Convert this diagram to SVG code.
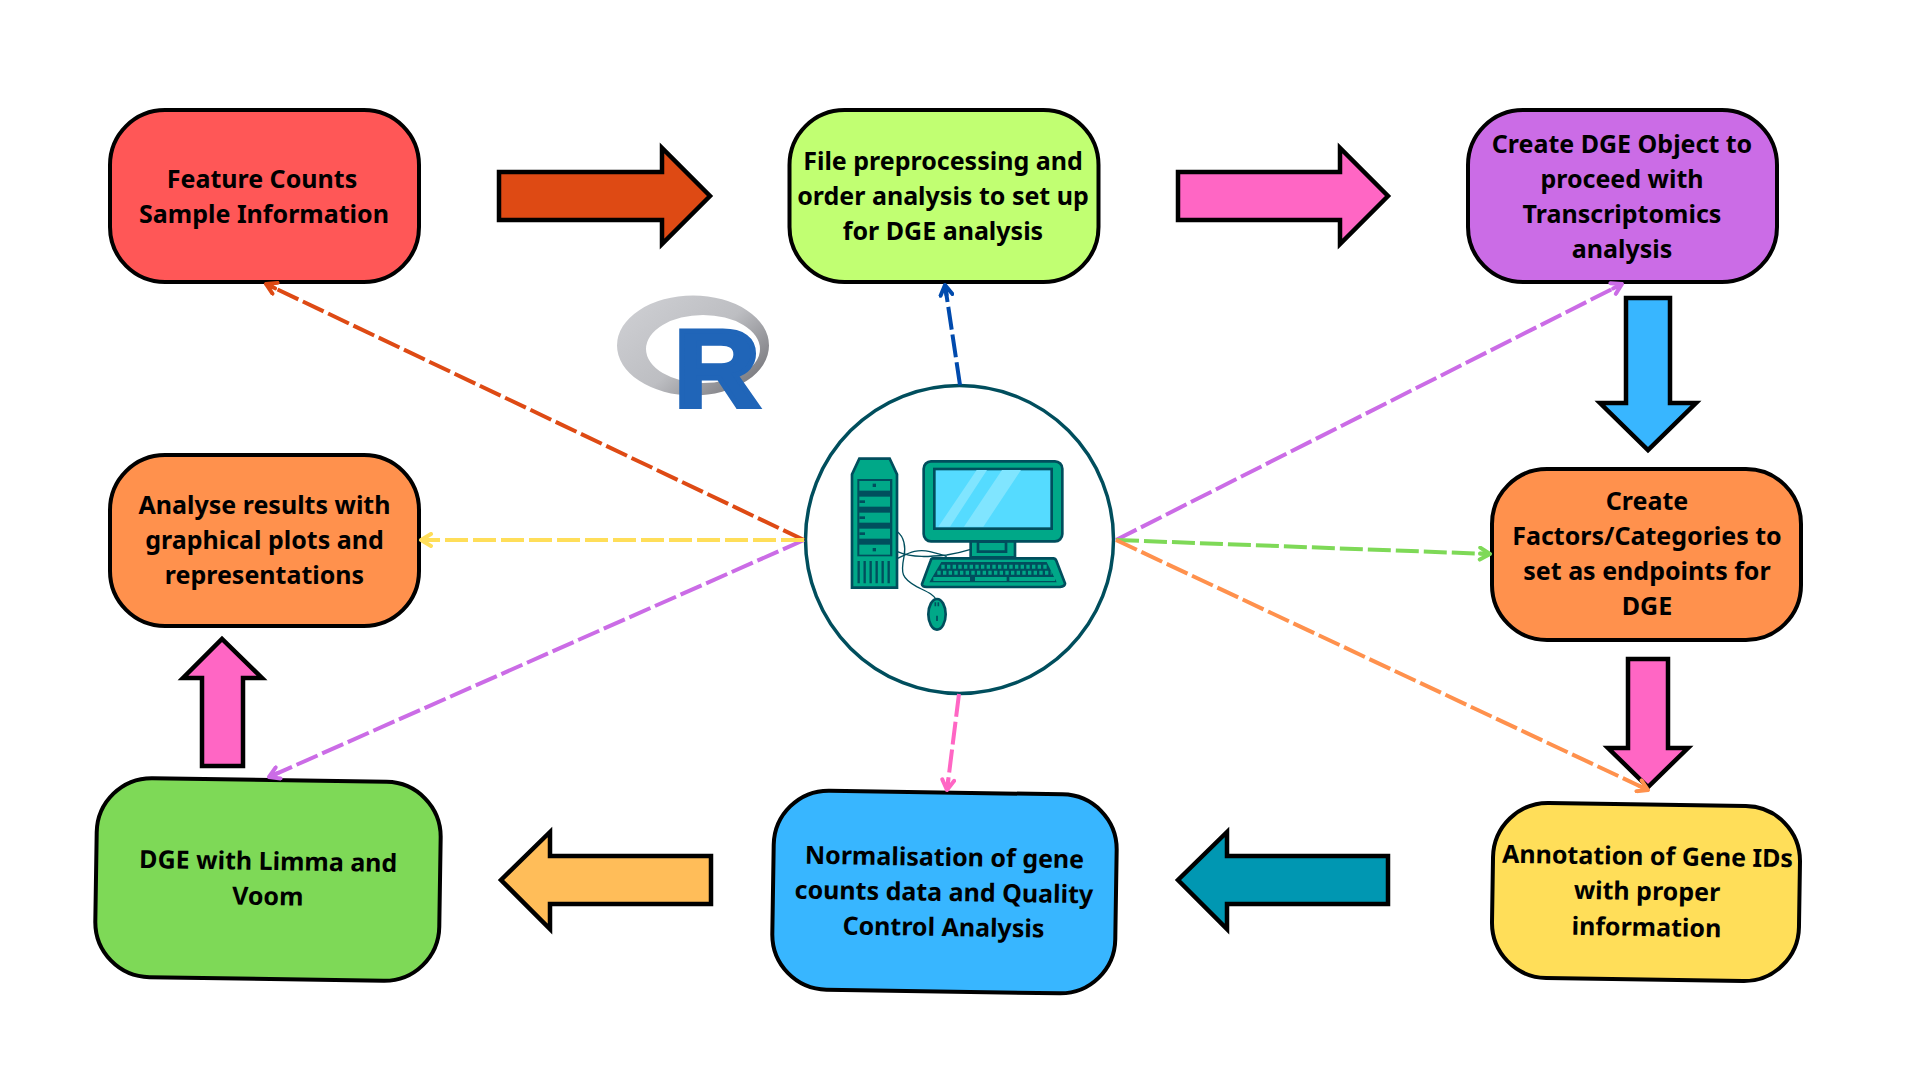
<svg xmlns="http://www.w3.org/2000/svg" width="1920" height="1080" viewBox="0 0 1920 1080">
<style>
.box{stroke:#000;stroke-width:4}
.bar{stroke:#000;stroke-width:4.5;stroke-linejoin:miter}
.lbl{font-family:"Noto Sans","Open Sans",sans-serif;font-weight:700;font-size:25px;fill:#000;text-anchor:middle}
.c{fill:none;stroke-width:4;stroke-dasharray:23 5}
.ico{stroke:#004e5d;stroke-width:8;fill:#00a888}
.wire{fill:none;stroke:#004e5d;stroke-width:4}
.m{fill:none;stroke-width:4;stroke-linecap:round;stroke-linejoin:round}
</style>
<defs>
<linearGradient id="ring" x1="0.1" y1="0.2" x2="0.95" y2="0.85"><stop offset="0" stop-color="#cbccd0"/><stop offset="0.5" stop-color="#bdbec2"/><stop offset="1" stop-color="#77777c"/></linearGradient>
<marker id="a1" viewBox="0 0 16 16" refX="13" refY="8" markerWidth="16" markerHeight="16" markerUnits="userSpaceOnUse" orient="auto"><path class="m" d="M3 2L13 8L3 14M3 8H13" stroke="#de4a14"/></marker>
<marker id="a2" viewBox="0 0 16 16" refX="13" refY="8" markerWidth="16" markerHeight="16" markerUnits="userSpaceOnUse" orient="auto"><path class="m" d="M3 2L13 8L3 14M3 8H13" stroke="#004aad"/></marker>
<marker id="a3" viewBox="0 0 16 16" refX="13" refY="8" markerWidth="16" markerHeight="16" markerUnits="userSpaceOnUse" orient="auto"><path class="m" d="M3 2L13 8L3 14M3 8H13" stroke="#cb6ce6"/></marker>
<marker id="a4" viewBox="0 0 16 16" refX="13" refY="8" markerWidth="16" markerHeight="16" markerUnits="userSpaceOnUse" orient="auto"><path class="m" d="M3 2L13 8L3 14M3 8H13" stroke="#7ed957"/></marker>
<marker id="a5" viewBox="0 0 16 16" refX="13" refY="8" markerWidth="16" markerHeight="16" markerUnits="userSpaceOnUse" orient="auto"><path class="m" d="M3 2L13 8L3 14M3 8H13" stroke="#ff914d"/></marker>
<marker id="a6" viewBox="0 0 16 16" refX="13" refY="8" markerWidth="16" markerHeight="16" markerUnits="userSpaceOnUse" orient="auto"><path class="m" d="M3 2L13 8L3 14M3 8H13" stroke="#ff66c4"/></marker>
<marker id="a7" viewBox="0 0 16 16" refX="13" refY="8" markerWidth="16" markerHeight="16" markerUnits="userSpaceOnUse" orient="auto"><path class="m" d="M3 2L13 8L3 14M3 8H13" stroke="#ffde59"/></marker>
</defs>
<rect width="1920" height="1080" fill="#fff"/>
<g id="flow-arrows">
<path class="bar" fill="#de4a14" d="M499 172H662V148L710 196L662 244V220H499Z"/>
<path class="bar" fill="#ff66c4" d="M1178 172H1340V148L1388 196L1340 244V220H1178Z"/>
<path class="bar" fill="#38b6ff" d="M1626 298H1670V403H1696L1648 450L1600 403H1626Z"/>
<path class="bar" fill="#ff66c4" d="M1628 659H1668V748H1688L1648 787L1608 748H1628Z"/>
<path class="bar" fill="#0097b2" d="M1388 856V904H1227V929L1178 880L1227 832V856Z"/>
<path class="bar" fill="#ffbd59" d="M711 856V904H550V929L501 880L550 832V856Z"/>
<path class="bar" fill="#ff66c4" d="M202 766V678H183L222 639L262 678H243V766Z"/>
</g>
<g id="r-logo">
<path fill="url(#ring)" fill-rule="evenodd" d="M617 345.500a76 50 0 1 0 152 0a76 50 0 1 0 -152 0ZM646 349a57 34 0 1 1 114 0a57 34 0 1 1 -114 0Z"/>
<text transform="translate(674 406.500) scale(1.08 1)" font-family="Liberation Sans,sans-serif" font-weight="700" font-size="110" fill="#2065b8" stroke="#2065b8" stroke-width="5">R</text>
</g>
<g id="computer">
<circle cx="959.500" cy="539.500" r="154" fill="#fff" stroke="#004e5d" stroke-width="3.500"/>
<g transform="translate(780 370) scale(.33333)">
<path class="wire" d="M352 485C372 500 378 530 372 560C362 610 365 625 410 650C440 665 460 672 470 690"/>
<path class="wire" d="M352 545C400 565 450 560 500 555C530 550 550 545 572 538"/>
<path class="wire" d="M352 565C385 550 410 535 450 545C480 552 490 555 500 560"/>
<path class="ico" stroke-width="6" d="M216 313L238 266H329L351 313V653H216Z"/>
<rect x="232" y="327" width="105" height="232" fill="#004e5d"/>
<g fill="#00a888"><rect x="238" y="333" width="92" height="29"/><rect x="238" y="380" width="92" height="30"/><rect x="238" y="428" width="92" height="30"/><rect x="238" y="476" width="92" height="30"/><rect x="238" y="524" width="92" height="30"/></g>
<g fill="#004e5d"><rect x="278" y="341" width="10" height="10"/><rect x="238" y="391" width="17" height="8"/><rect x="238" y="439" width="17" height="8"/><rect x="238" y="487" width="17" height="8"/><rect x="278" y="534" width="10" height="10"/></g>
<path d="M236 573V640M254 573V640M272 573V640M290 573V640M308 573V640M326 573V640" stroke="#004e5d" stroke-width="7" fill="none"/>
<path class="ico" d="M572 510H705V562H572Z"/>
<path class="ico" stroke-width="6" d="M594 515H678V545H594Z"/>
<rect class="ico" x="431" y="274" width="416" height="240" rx="22"/>
<rect x="463" y="297" width="352" height="179" fill="#55dbff" stroke="#004e5d" stroke-width="8"/>
<path fill="#80e5ff" d="M590 300H621L510 470H475ZM666 300H723L610 470H552Z"/>
<path class="ico" stroke-width="7" d="M458 565H820Q826 565 829 572L855 640Q856 648 840 651H440Q425 650 426 642L452 572Q454 565 458 565Z"/>
<path d="M484 576H800L830 637H448Z" fill="#004e5d"/>
<path d="M484 590H805M472 608H815" stroke="#00a888" stroke-width="12" stroke-dasharray="10 7" fill="none"/>
<path d="M460 627H570M585 627H680M688 627H825" stroke="#00a888" stroke-width="12" fill="none"/>
<ellipse class="ico" cx="471" cy="733" rx="26" ry="46" stroke-width="7"/>
<path d="M466 697V709M475 697V709M471 737V753" stroke="#004e5d" stroke-width="5" fill="none"/>
</g>
</g>
<g id="feature-counts">
<rect class="box" fill="#ff5757" x="110" y="110" width="309" height="172" rx="55"/>
<text class="lbl"><tspan x="262" y="188">Feature Counts</tspan><tspan x="264" y="223">Sample Information</tspan></text>
</g>
<g id="preprocessing">
<rect class="box" fill="#c1ff72" x="789.500" y="110" width="309" height="172" rx="55"/>
<text class="lbl"><tspan x="943" y="170">File preprocessing and</tspan><tspan x="943" y="205">order analysis to set up</tspan><tspan x="943" y="240">for DGE analysis</tspan></text>
</g>
<g id="dge-object">
<rect class="box" fill="#cb6ce6" x="1468" y="110" width="309" height="172" rx="55"/>
<text class="lbl"><tspan x="1622" y="153">Create DGE Object to</tspan><tspan x="1622" y="188">proceed with</tspan><tspan x="1622" y="223">Transcriptomics</tspan><tspan x="1622" y="258">analysis</tspan></text>
</g>
<g id="factors">
<rect class="box" fill="#ff914d" x="1492" y="469" width="309" height="171" rx="55"/>
<text class="lbl"><tspan x="1647" y="510">Create</tspan><tspan x="1647" y="545">Factors/Categories to</tspan><tspan x="1647" y="580">set as endpoints for</tspan><tspan x="1647" y="615">DGE</tspan></text>
</g>
<g id="annotation" transform="rotate(0.9 1646 892)">
<rect class="box" fill="#ffde59" x="1492.500" y="804.500" width="307" height="175" rx="55"/>
<text class="lbl"><tspan x="1647" y="865">Annotation of Gene IDs</tspan><tspan x="1647" y="900">with proper</tspan><tspan x="1647" y="936">information</tspan></text>
</g>
<g id="normalisation" transform="rotate(0.9 944.500 891.500)">
<rect class="box" fill="#38b6ff" x="773" y="792.500" width="343" height="199" rx="55"/>
<text class="lbl"><tspan x="944" y="866">Normalisation of gene</tspan><tspan x="944" y="901">counts data and Quality</tspan><tspan x="944" y="936">Control Analysis</tspan></text>
</g>
<g id="limma" transform="rotate(0.9 268 879)">
<rect class="box" fill="#7ed957" x="96" y="780" width="344" height="199" rx="55"/>
<text class="lbl"><tspan x="268" y="870">DGE with Limma and</tspan><tspan x="268" y="905">Voom</tspan></text>
</g>
<g id="results">
<rect class="box" fill="#ff914d" x="110" y="455" width="309" height="171" rx="55"/>
<text class="lbl"><tspan x="264.500" y="514">Analyse results with</tspan><tspan x="264.500" y="549">graphical plots and</tspan><tspan x="264.500" y="584">representations</tspan></text>
</g>
<g id="connectors">
<path class="c" stroke="#de4a14" marker-end="url(#a1)" d="M804 540L266 284"/>
<path class="c" stroke="#004aad" marker-end="url(#a2)" d="M960 385L945 285"/>
<path class="c" stroke="#cb6ce6" marker-end="url(#a3)" d="M1116 540L1622 284"/>
<path class="c" stroke="#7ed957" marker-end="url(#a4)" d="M1116 540L1490 554"/>
<path class="c" stroke="#ff914d" marker-end="url(#a5)" d="M1116 540L1648 790"/>
<path class="c" stroke="#ff66c4" marker-end="url(#a6)" d="M959 694L947 790"/>
<path class="c" stroke="#cb6ce6" marker-end="url(#a3)" d="M804 540L269 777"/>
<path class="c" stroke="#ffde59" marker-end="url(#a7)" d="M804 540L421 540"/>
</g>
</svg>
